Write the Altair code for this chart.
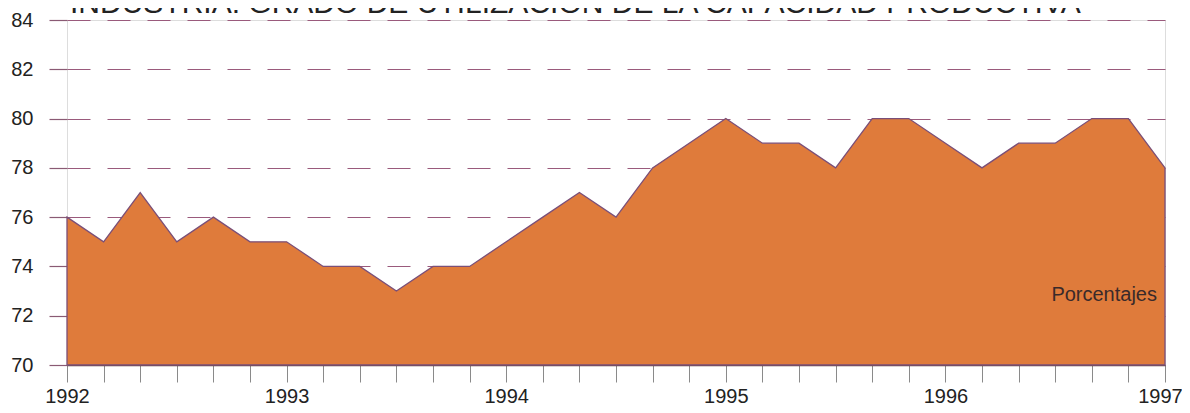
import altair as alt
import pandas as pd

years = [1992, 1993, 1994, 1995, 1996]
steps_per_year = 6
values = [76, 75, 77, 75, 76, 75,
          75, 74, 74, 73, 74, 74,
          75, 76, 77, 76, 78, 79,
          80, 79, 79, 78, 80, 80,
          79, 78, 79, 79, 80, 80,
          78]
t = [y + k / steps_per_year for y in years for k in range(steps_per_year)] + [1997.0]
df = pd.DataFrame({"t": t, "v": values})

title_text = "INDUSTRIA: GRADO DE UTILIZACIÓN DE LA CAPACIDAD PRODUCTIVA"
unit_text = "Porcentajes"
unit_pos = [1997.0, 72.84]
y_ticks = [70, 72, 74, 76, 78, 80, 82, 84]

FONT = "Liberation Sans"
xscale = alt.Scale(domain=[1992, 1997], nice=False, zero=False)
yscale = alt.Scale(domain=[70, 84], nice=False, zero=False)

area = alt.Chart(df).mark_area(color="#DF7B3B", stroke="#7a4f78", strokeWidth=1.3, opacity=1).encode(
    x=alt.X("t:Q", scale=xscale,
            axis=alt.Axis(values=t, tickCount=60, title=None, grid=False,
                          labelExpr="datum.value % 1 == 0 ? format(datum.value, 'd') : ''",
                          labelOverlap=False, labelFlush=False, labelFont=FONT, labelFontSize=20,
                          labelColor="#222222", tickSize=17, tickColor="#8a8a8a", tickWidth=1,
                          labelOffset={"condition": {"test": "datum.value == 1997", "value": -5}, "value": 0},
                          labelPadding=4, domain=True, domainColor="#6b4a3a", domainWidth=1.3)),
    y=alt.Y("v:Q", scale=yscale,
            axis=alt.Axis(values=y_ticks, title=None, grid=True, gridDash=[23, 17], gridColor="#9a5a7c",
                          gridWidth=1.2, domain=False, tickSize=18, tickColor="#8a5a74", tickWidth=1.2,
                          labelFont=FONT, labelFontSize=20, labelColor="#222222", labelPadding=16)),
    y2=alt.datum(70),
)

label_df = pd.DataFrame({"t": [unit_pos[0]], "v": [unit_pos[1]], "txt": [unit_text]})
label = alt.Chart(label_df).mark_text(align="right", baseline="middle", dx=-8, font=FONT,
                                      fontSize=20, color="#3a2a2a").encode(
    x=alt.X("t:Q", scale=xscale), y=alt.Y("v:Q", scale=yscale), text="txt:N")

title_df = pd.DataFrame({"txt": [title_text]})
title = alt.Chart(title_df).mark_text(align="left", baseline="alphabetic", font=FONT, fontSize=30,
                                      color="#222222").encode(
    x=alt.value(3), y=alt.value(-7), text="txt:N")

chart = alt.layer(area, label, title).properties(
    width=1098, height=345,
    autosize=alt.AutoSizeParams(type="none"),
    padding={"left": 59, "top": 12, "right": 17, "bottom": 40},
).configure_view(stroke=None).configure(background="white")

chart.save("out.html", embed_options={"renderer": "svg", "actions": False})
